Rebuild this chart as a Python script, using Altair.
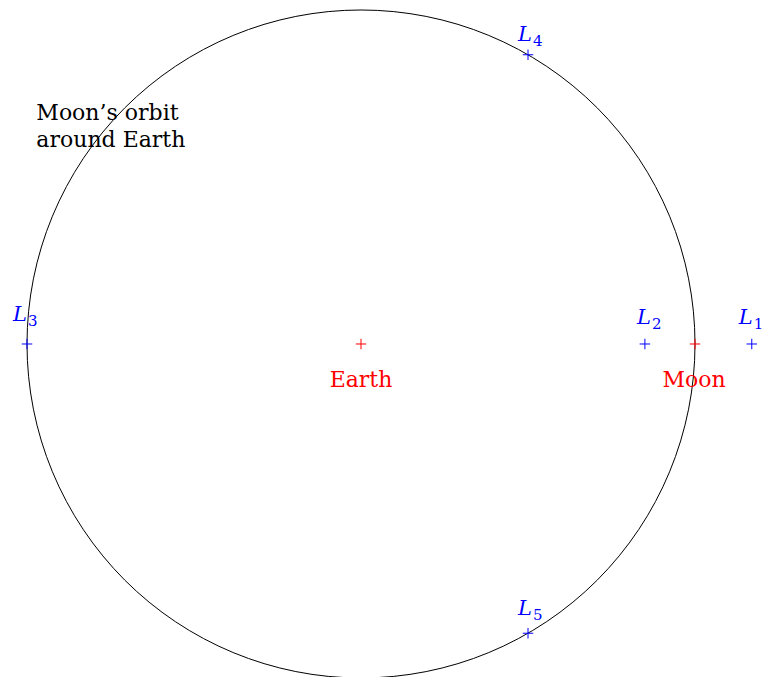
import math
import altair as alt
import pandas as pd

# Lagrange points (orbit radius = 1, Earth at origin)
lag_sub = ["1", "2", "3", "4", "5"]
lag_x = [1.17, 0.85, -1.0, 0.5, 0.5]
lag_y = [0.0, 0.0, 0.0, 0.866, -0.866]
lag_label_x = [1.164, 0.859, -1.009, 0.503, 0.503]
lag_label_y = [0.060, 0.060, 0.069, 0.907, -0.811]

# Bodies
body_names = ["Earth", "Moon"]
body_x = [0.0, 1.0]
body_y = [0.0, 0.0]
body_label_x = [0.0, 0.997]
body_label_y = [-0.129, -0.129]

# Orbit
orbit_cx = [0.0]
orbit_cy = [0.0]
orbit_r = [1.0]

note_text = ["Moon\u2019s orbit\naround Earth"]
note_x = [-0.972]
note_y = [0.671]

FONT = "DejaVu Serif"

# plot area 754 x 669 px, 334 px per orbit radius
xs = alt.Scale(domain=[-1.05689, 1.20060], nice=False, zero=False)
ys = alt.Scale(domain=[-0.99701, 1.00599], nice=False, zero=False)

lag_df = pd.DataFrame({"sub": lag_sub, "x": lag_x, "y": lag_y,
                       "lx": lag_label_x, "ly": lag_label_y})
body_df = pd.DataFrame({"name": body_names, "x": body_x, "y": body_y,
                        "lx": body_label_x, "ly": body_label_y})
orbit_df = pd.DataFrame({"x": orbit_cx, "y": orbit_cy, "r": orbit_r})
note_df = pd.DataFrame({"t": note_text, "x": note_x, "y": note_y})

CROSS = "M-1,0H1M0,-1V1"

orbit = alt.Chart(orbit_df).mark_arc(
    theta=0, theta2=2 * math.pi, filled=False, stroke="black", strokeWidth=1
).encode(
    x=alt.X("x:Q", scale=xs, axis=None),
    y=alt.Y("y:Q", scale=ys, axis=None),
    radius=alt.Radius("r:Q", scale=alt.Scale(type="linear", domain=[0, 1], range=[0, 334], zero=True)),
)

lag_pts = alt.Chart(lag_df).mark_point(
    shape=CROSS, size=110, filled=False, stroke="#0000ff", strokeWidth=1, opacity=1
).encode(x=alt.X("x:Q", scale=xs, axis=None), y=alt.Y("y:Q", scale=ys, axis=None))

body_pts = alt.Chart(body_df).mark_point(
    shape=CROSS, size=110, filled=False, stroke="#ff0000", strokeWidth=1, opacity=1
).encode(x=alt.X("x:Q", scale=xs, axis=None), y=alt.Y("y:Q", scale=ys, axis=None))

lag_L = alt.Chart(lag_df).mark_text(
    font=FONT, fontSize=21, fontStyle="italic", color="#0000ff",
    align="right", baseline="alphabetic", dx=3
).encode(x=alt.X("lx:Q", scale=xs, axis=None), y=alt.Y("ly:Q", scale=ys, axis=None),
         text=alt.value("L"))

lag_S = alt.Chart(lag_df).mark_text(
    font=FONT, fontSize=15, color="#0000ff",
    align="left", baseline="alphabetic", dx=4, dy=5
).encode(x=alt.X("lx:Q", scale=xs, axis=None), y=alt.Y("ly:Q", scale=ys, axis=None),
         text="sub:N")

body_txt = alt.Chart(body_df).mark_text(
    font=FONT, fontSize=22, color="#ff0000", align="center", baseline="alphabetic"
).encode(x=alt.X("lx:Q", scale=xs, axis=None), y=alt.Y("ly:Q", scale=ys, axis=None),
         text="name:N")

note = alt.Chart(note_df).mark_text(
    font=FONT, fontSize=22, color="black", align="left", baseline="alphabetic",
    lineBreak="\n", lineHeight=27
).encode(x=alt.X("x:Q", scale=xs, axis=None), y=alt.Y("y:Q", scale=ys, axis=None),
         text="t:N")

chart = alt.layer(orbit, lag_pts, body_pts, lag_L, lag_S, body_txt, note).properties(
    width=754, height=669, autosize=alt.AutoSizeParams(type="none"), padding=0,
    background="white"
).configure_view(stroke=None)

chart.save("out.html", embed_options={"renderer": "svg", "actions": False})
